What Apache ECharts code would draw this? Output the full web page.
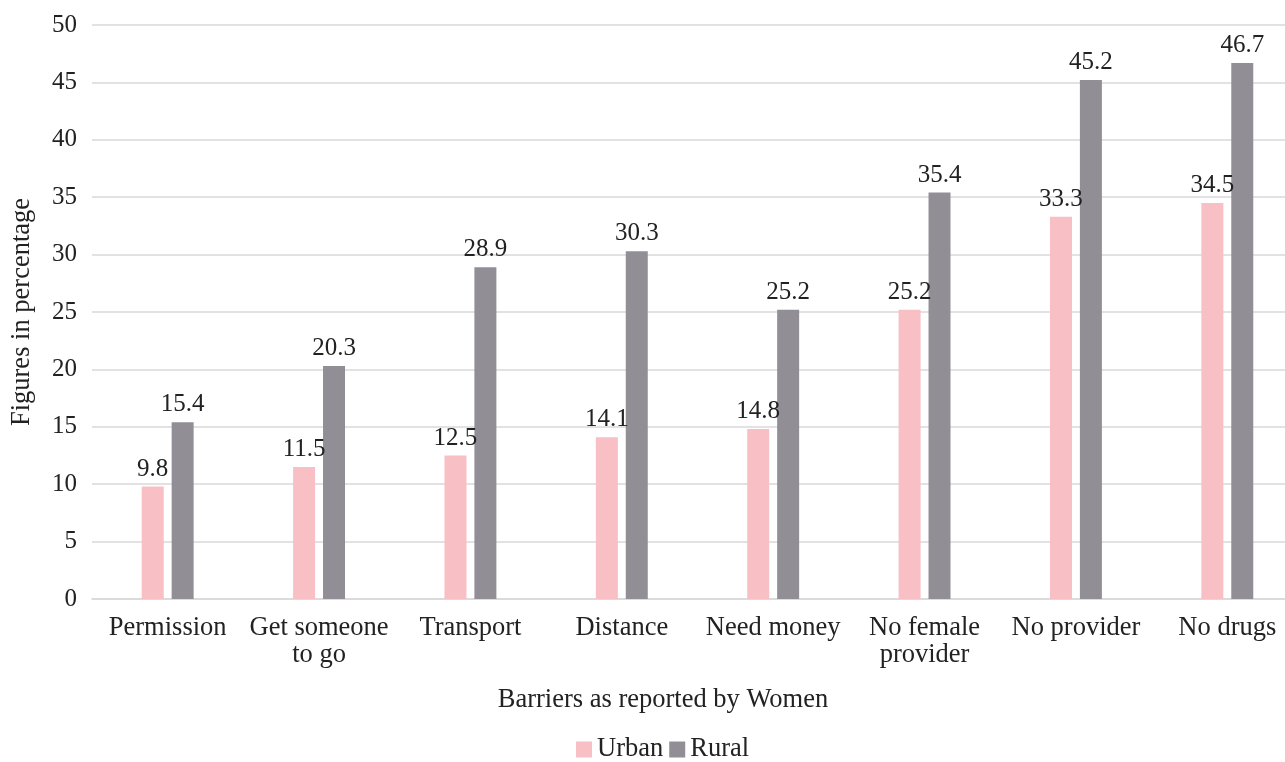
<!DOCTYPE html>
<html><head><meta charset="utf-8">
<script src="https://cdn.jsdelivr.net/npm/echarts@6/dist/echarts.min.js"></script>
<style>html,body{margin:0;padding:0;background:#fff;overflow:hidden}#c{width:1305px;height:762px}</style>
</head><body><div id="c"></div>
<script>
const categories = ['Permission','Get someone\nto go','Transport','Distance','Need money','No female\nprovider','No provider','No drugs'];
const urban = [9.8,11.5,12.5,14.1,14.8,25.2,33.3,34.5];
const rural = [15.4,20.3,28.9,30.3,25.2,35.4,45.2,46.7];
const yTicks = {min:0,max:50,interval:5};
const FONT = 'Liberation Serif';
const FS = 25;
const FW = 26.5;
const chart = echarts.init(document.getElementById('c'));
chart.setOption({
  animation:false,
  textStyle:{fontFamily:FONT},
  grid:{left:92,top:25,width:1211,height:574,containLabel:false},
  legend:{top:736,left:576,padding:0,itemWidth:16,itemHeight:16,itemGap:6,icon:'rect',
    textStyle:{fontFamily:FONT,fontSize:FW,color:'#222'},data:['Urban','Rural']},
  xAxis:{type:'category',data:categories,
    axisLine:{lineStyle:{color:'#d9d9d9',width:1.5}},axisTick:{show:false},
    axisLabel:{fontFamily:FONT,fontSize:FW,color:'#222',margin:16,lineHeight:27,interval:0}},
  yAxis:{type:'value',min:yTicks.min,max:yTicks.max,interval:yTicks.interval,
    axisLabel:{fontFamily:FONT,fontSize:FS,color:'#222',margin:15},
    splitLine:{lineStyle:{color:'#d9d9d9',width:1.5}},axisLine:{show:false},axisTick:{show:false}},
  graphic:[
    {type:'text',x:663,y:700,style:{text:'Barriers as reported by Women',font:FW+'px '+FONT,fill:'#222',align:'center',verticalAlign:'middle'}},
    {type:'text',x:22,y:312,rotation:Math.PI/2,style:{text:'Figures in percentage',font:FW+'px '+FONT,fill:'#222',align:'center',verticalAlign:'middle'}}
  ],
  series:[
    {name:'Urban',type:'bar',data:urban,barWidth:22,barGap:'36%',itemStyle:{color:'#f8bfc5'},
      label:{show:true,position:'top',distance:5,fontFamily:FONT,fontSize:FS,color:'#222'}},
    {name:'Rural',type:'bar',data:rural,barWidth:22,itemStyle:{color:'#918f95'},
      label:{show:true,position:'top',distance:5,fontFamily:FONT,fontSize:FS,color:'#222'}}
  ]
});
</script></body></html>
